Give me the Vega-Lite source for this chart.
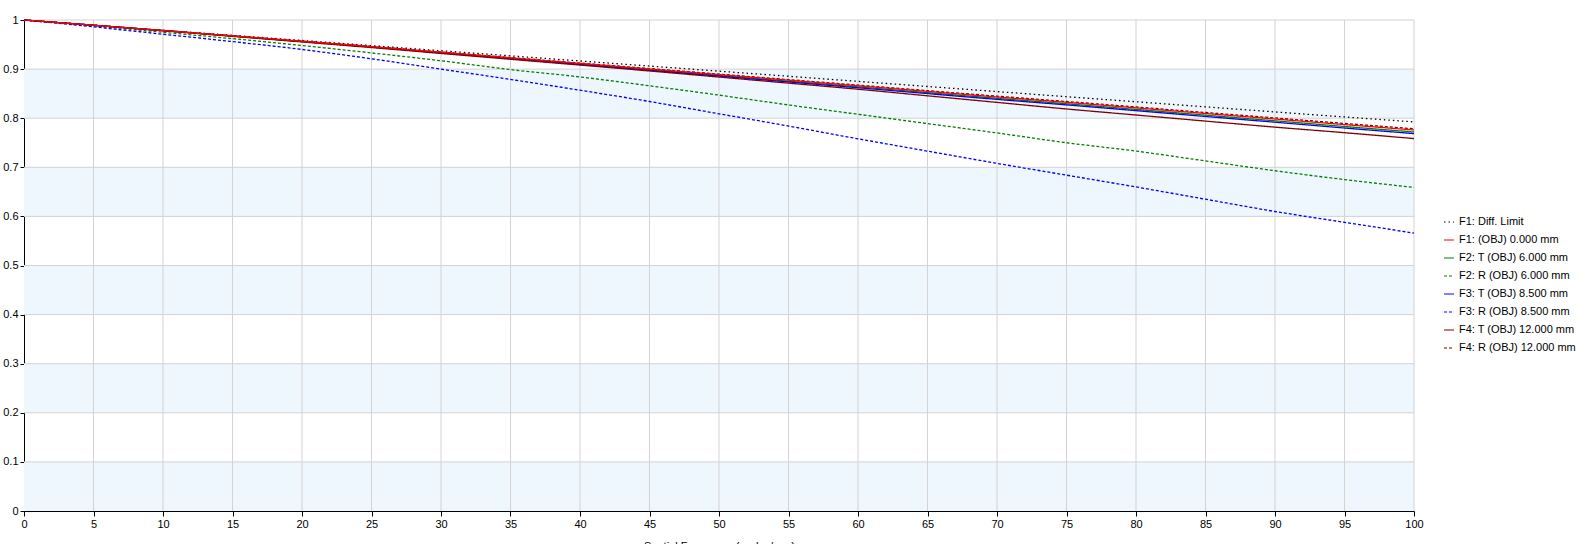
{
  "$schema": "https://vega.github.io/schema/vega-lite/v6.json",
  "width": 1390,
  "height": 491,
  "autosize": {"type": "none"},
  "padding": {"left": 24, "top": 20, "right": 165, "bottom": 33},
  "background": "#ffffff",
  "config": {
    "view": {"stroke": null},
    "font": "Liberation Sans",
    "axis": {"labelFont": "Liberation Sans", "titleFont": "Liberation Sans", "labelColor": "#000000", "titleColor": "#000000", "domainColor": "#000000", "tickColor": "#000000", "grid": false, "labelFontSize": 11, "titleFontSize": 11, "titleFontWeight": "normal"},
    "legend": {"labelFont": "Liberation Sans", "labelFontSize": 11, "labelColor": "#000000", "padding": 0}
  },
  "datasets": {
    "bands": [{"lo": 0, "hi": 0.1}, {"lo": 0.2, "hi": 0.3}, {"lo": 0.4, "hi": 0.5}, {"lo": 0.6, "hi": 0.7}, {"lo": 0.8, "hi": 0.9}],
    "xg": [{"f": 5}, {"f": 10}, {"f": 15}, {"f": 20}, {"f": 25}, {"f": 30}, {"f": 35}, {"f": 40}, {"f": 45}, {"f": 50}, {"f": 55}, {"f": 60}, {"f": 65}, {"f": 70}, {"f": 75}, {"f": 80}, {"f": 85}, {"f": 90}, {"f": 95}, {"f": 100}],
    "yg": [{"v": 0.1}, {"v": 0.2}, {"v": 0.3}, {"v": 0.4}, {"v": 0.5}, {"v": 0.6}, {"v": 0.7}, {"v": 0.8}, {"v": 0.9}, {"v": 1}],
    "mtf": [
      {"s": "F1: Diff. Limit", "f": 0, "v": 1}, {"s": "F1: Diff. Limit", "f": 5, "v": 0.9896}, {"s": "F1: Diff. Limit", "f": 10, "v": 0.9791}, {"s": "F1: Diff. Limit", "f": 15, "v": 0.9687}, {"s": "F1: Diff. Limit", "f": 20, "v": 0.9583}, {"s": "F1: Diff. Limit", "f": 25, "v": 0.9478}, {"s": "F1: Diff. Limit", "f": 30, "v": 0.9374}, {"s": "F1: Diff. Limit", "f": 35, "v": 0.927}, {"s": "F1: Diff. Limit", "f": 40, "v": 0.9166}, {"s": "F1: Diff. Limit", "f": 45, "v": 0.9062}, {"s": "F1: Diff. Limit", "f": 50, "v": 0.8958}, {"s": "F1: Diff. Limit", "f": 55, "v": 0.8854}, {"s": "F1: Diff. Limit", "f": 60, "v": 0.875}, {"s": "F1: Diff. Limit", "f": 65, "v": 0.8646}, {"s": "F1: Diff. Limit", "f": 70, "v": 0.8542}, {"s": "F1: Diff. Limit", "f": 75, "v": 0.8438}, {"s": "F1: Diff. Limit", "f": 80, "v": 0.8335}, {"s": "F1: Diff. Limit", "f": 85, "v": 0.8231}, {"s": "F1: Diff. Limit", "f": 90, "v": 0.8128}, {"s": "F1: Diff. Limit", "f": 95, "v": 0.8025}, {"s": "F1: Diff. Limit", "f": 100, "v": 0.7925},

      {"s": "F2: T (OBJ) 6.000 mm", "f": 0, "v": 1}, {"s": "F2: T (OBJ) 6.000 mm", "f": 5, "v": 0.9893}, {"s": "F2: T (OBJ) 6.000 mm", "f": 10, "v": 0.9785}, {"s": "F2: T (OBJ) 6.000 mm", "f": 15, "v": 0.9675}, {"s": "F2: T (OBJ) 6.000 mm", "f": 20, "v": 0.9564}, {"s": "F2: T (OBJ) 6.000 mm", "f": 25, "v": 0.9453}, {"s": "F2: T (OBJ) 6.000 mm", "f": 30, "v": 0.9337}, {"s": "F2: T (OBJ) 6.000 mm", "f": 35, "v": 0.922}, {"s": "F2: T (OBJ) 6.000 mm", "f": 40, "v": 0.9104}, {"s": "F2: T (OBJ) 6.000 mm", "f": 45, "v": 0.8987}, {"s": "F2: T (OBJ) 6.000 mm", "f": 50, "v": 0.8871}, {"s": "F2: T (OBJ) 6.000 mm", "f": 55, "v": 0.8754}, {"s": "F2: T (OBJ) 6.000 mm", "f": 60, "v": 0.8638}, {"s": "F2: T (OBJ) 6.000 mm", "f": 65, "v": 0.8521}, {"s": "F2: T (OBJ) 6.000 mm", "f": 70, "v": 0.8405}, {"s": "F2: T (OBJ) 6.000 mm", "f": 75, "v": 0.8294}, {"s": "F2: T (OBJ) 6.000 mm", "f": 80, "v": 0.8179}, {"s": "F2: T (OBJ) 6.000 mm", "f": 85, "v": 0.8062}, {"s": "F2: T (OBJ) 6.000 mm", "f": 90, "v": 0.7947}, {"s": "F2: T (OBJ) 6.000 mm", "f": 95, "v": 0.7831}, {"s": "F2: T (OBJ) 6.000 mm", "f": 100, "v": 0.7719},

      {"s": "F2: R (OBJ) 6.000 mm", "f": 0, "v": 1}, {"s": "F2: R (OBJ) 6.000 mm", "f": 5, "v": 0.988}, {"s": "F2: R (OBJ) 6.000 mm", "f": 10, "v": 0.975}, {"s": "F2: R (OBJ) 6.000 mm", "f": 15, "v": 0.962}, {"s": "F2: R (OBJ) 6.000 mm", "f": 20, "v": 0.948}, {"s": "F2: R (OBJ) 6.000 mm", "f": 25, "v": 0.933}, {"s": "F2: R (OBJ) 6.000 mm", "f": 30, "v": 0.917}, {"s": "F2: R (OBJ) 6.000 mm", "f": 35, "v": 0.899}, {"s": "F2: R (OBJ) 6.000 mm", "f": 40, "v": 0.884}, {"s": "F2: R (OBJ) 6.000 mm", "f": 45, "v": 0.866}, {"s": "F2: R (OBJ) 6.000 mm", "f": 50, "v": 0.847}, {"s": "F2: R (OBJ) 6.000 mm", "f": 55, "v": 0.827}, {"s": "F2: R (OBJ) 6.000 mm", "f": 60, "v": 0.808}, {"s": "F2: R (OBJ) 6.000 mm", "f": 65, "v": 0.789}, {"s": "F2: R (OBJ) 6.000 mm", "f": 70, "v": 0.77}, {"s": "F2: R (OBJ) 6.000 mm", "f": 75, "v": 0.75}, {"s": "F2: R (OBJ) 6.000 mm", "f": 80, "v": 0.733}, {"s": "F2: R (OBJ) 6.000 mm", "f": 85, "v": 0.713}, {"s": "F2: R (OBJ) 6.000 mm", "f": 90, "v": 0.693}, {"s": "F2: R (OBJ) 6.000 mm", "f": 95, "v": 0.675}, {"s": "F2: R (OBJ) 6.000 mm", "f": 100, "v": 0.659},

      {"s": "F3: T (OBJ) 8.500 mm", "f": 0, "v": 1}, {"s": "F3: T (OBJ) 8.500 mm", "f": 5, "v": 0.9893}, {"s": "F3: T (OBJ) 8.500 mm", "f": 10, "v": 0.9784}, {"s": "F3: T (OBJ) 8.500 mm", "f": 15, "v": 0.9673}, {"s": "F3: T (OBJ) 8.500 mm", "f": 20, "v": 0.9561}, {"s": "F3: T (OBJ) 8.500 mm", "f": 25, "v": 0.9449}, {"s": "F3: T (OBJ) 8.500 mm", "f": 30, "v": 0.9331}, {"s": "F3: T (OBJ) 8.500 mm", "f": 35, "v": 0.9212}, {"s": "F3: T (OBJ) 8.500 mm", "f": 40, "v": 0.9094}, {"s": "F3: T (OBJ) 8.500 mm", "f": 45, "v": 0.8975}, {"s": "F3: T (OBJ) 8.500 mm", "f": 50, "v": 0.8857}, {"s": "F3: T (OBJ) 8.500 mm", "f": 55, "v": 0.8738}, {"s": "F3: T (OBJ) 8.500 mm", "f": 60, "v": 0.862}, {"s": "F3: T (OBJ) 8.500 mm", "f": 65, "v": 0.8501}, {"s": "F3: T (OBJ) 8.500 mm", "f": 70, "v": 0.8383}, {"s": "F3: T (OBJ) 8.500 mm", "f": 75, "v": 0.8271}, {"s": "F3: T (OBJ) 8.500 mm", "f": 80, "v": 0.8154}, {"s": "F3: T (OBJ) 8.500 mm", "f": 85, "v": 0.8035}, {"s": "F3: T (OBJ) 8.500 mm", "f": 90, "v": 0.7918}, {"s": "F3: T (OBJ) 8.500 mm", "f": 95, "v": 0.78}, {"s": "F3: T (OBJ) 8.500 mm", "f": 100, "v": 0.7686},

      {"s": "F3: R (OBJ) 8.500 mm", "f": 0, "v": 1}, {"s": "F3: R (OBJ) 8.500 mm", "f": 5, "v": 0.986}, {"s": "F3: R (OBJ) 8.500 mm", "f": 10, "v": 0.971}, {"s": "F3: R (OBJ) 8.500 mm", "f": 15, "v": 0.956}, {"s": "F3: R (OBJ) 8.500 mm", "f": 20, "v": 0.94}, {"s": "F3: R (OBJ) 8.500 mm", "f": 25, "v": 0.921}, {"s": "F3: R (OBJ) 8.500 mm", "f": 30, "v": 0.9}, {"s": "F3: R (OBJ) 8.500 mm", "f": 35, "v": 0.879}, {"s": "F3: R (OBJ) 8.500 mm", "f": 40, "v": 0.857}, {"s": "F3: R (OBJ) 8.500 mm", "f": 45, "v": 0.834}, {"s": "F3: R (OBJ) 8.500 mm", "f": 50, "v": 0.809}, {"s": "F3: R (OBJ) 8.500 mm", "f": 55, "v": 0.784}, {"s": "F3: R (OBJ) 8.500 mm", "f": 60, "v": 0.758}, {"s": "F3: R (OBJ) 8.500 mm", "f": 65, "v": 0.733}, {"s": "F3: R (OBJ) 8.500 mm", "f": 70, "v": 0.708}, {"s": "F3: R (OBJ) 8.500 mm", "f": 75, "v": 0.684}, {"s": "F3: R (OBJ) 8.500 mm", "f": 80, "v": 0.66}, {"s": "F3: R (OBJ) 8.500 mm", "f": 85, "v": 0.635}, {"s": "F3: R (OBJ) 8.500 mm", "f": 90, "v": 0.61}, {"s": "F3: R (OBJ) 8.500 mm", "f": 95, "v": 0.588}, {"s": "F3: R (OBJ) 8.500 mm", "f": 100, "v": 0.566},

      {"s": "F4: T (OBJ) 12.000 mm", "f": 0, "v": 1}, {"s": "F4: T (OBJ) 12.000 mm", "f": 5, "v": 0.9893}, {"s": "F4: T (OBJ) 12.000 mm", "f": 10, "v": 0.9781}, {"s": "F4: T (OBJ) 12.000 mm", "f": 15, "v": 0.9667}, {"s": "F4: T (OBJ) 12.000 mm", "f": 20, "v": 0.9553}, {"s": "F4: T (OBJ) 12.000 mm", "f": 25, "v": 0.9438}, {"s": "F4: T (OBJ) 12.000 mm", "f": 30, "v": 0.9319}, {"s": "F4: T (OBJ) 12.000 mm", "f": 35, "v": 0.92}, {"s": "F4: T (OBJ) 12.000 mm", "f": 40, "v": 0.9081}, {"s": "F4: T (OBJ) 12.000 mm", "f": 45, "v": 0.8962}, {"s": "F4: T (OBJ) 12.000 mm", "f": 50, "v": 0.8838}, {"s": "F4: T (OBJ) 12.000 mm", "f": 55, "v": 0.8714}, {"s": "F4: T (OBJ) 12.000 mm", "f": 60, "v": 0.859}, {"s": "F4: T (OBJ) 12.000 mm", "f": 65, "v": 0.8456}, {"s": "F4: T (OBJ) 12.000 mm", "f": 70, "v": 0.8322}, {"s": "F4: T (OBJ) 12.000 mm", "f": 75, "v": 0.8188}, {"s": "F4: T (OBJ) 12.000 mm", "f": 80, "v": 0.8065}, {"s": "F4: T (OBJ) 12.000 mm", "f": 85, "v": 0.7941}, {"s": "F4: T (OBJ) 12.000 mm", "f": 90, "v": 0.7818}, {"s": "F4: T (OBJ) 12.000 mm", "f": 95, "v": 0.7705}, {"s": "F4: T (OBJ) 12.000 mm", "f": 100, "v": 0.7585},

      {"s": "F4: R (OBJ) 12.000 mm", "f": 0, "v": 1}, {"s": "F4: R (OBJ) 12.000 mm", "f": 5, "v": 0.9894}, {"s": "F4: R (OBJ) 12.000 mm", "f": 10, "v": 0.9787}, {"s": "F4: R (OBJ) 12.000 mm", "f": 15, "v": 0.9678}, {"s": "F4: R (OBJ) 12.000 mm", "f": 20, "v": 0.957}, {"s": "F4: R (OBJ) 12.000 mm", "f": 25, "v": 0.9461}, {"s": "F4: R (OBJ) 12.000 mm", "f": 30, "v": 0.9348}, {"s": "F4: R (OBJ) 12.000 mm", "f": 35, "v": 0.9236}, {"s": "F4: R (OBJ) 12.000 mm", "f": 40, "v": 0.9123}, {"s": "F4: R (OBJ) 12.000 mm", "f": 45, "v": 0.9011}, {"s": "F4: R (OBJ) 12.000 mm", "f": 50, "v": 0.8898}, {"s": "F4: R (OBJ) 12.000 mm", "f": 55, "v": 0.8786}, {"s": "F4: R (OBJ) 12.000 mm", "f": 60, "v": 0.8674}, {"s": "F4: R (OBJ) 12.000 mm", "f": 65, "v": 0.8561}, {"s": "F4: R (OBJ) 12.000 mm", "f": 70, "v": 0.8449}, {"s": "F4: R (OBJ) 12.000 mm", "f": 75, "v": 0.834}, {"s": "F4: R (OBJ) 12.000 mm", "f": 80, "v": 0.8229}, {"s": "F4: R (OBJ) 12.000 mm", "f": 85, "v": 0.8116}, {"s": "F4: R (OBJ) 12.000 mm", "f": 90, "v": 0.8005}, {"s": "F4: R (OBJ) 12.000 mm", "f": 95, "v": 0.7893}, {"s": "F4: R (OBJ) 12.000 mm", "f": 100, "v": 0.7785},

      {"s": "F1: (OBJ) 0.000 mm", "f": 0, "v": 1}, {"s": "F1: (OBJ) 0.000 mm", "f": 5, "v": 0.9894}, {"s": "F1: (OBJ) 0.000 mm", "f": 10, "v": 0.9786}, {"s": "F1: (OBJ) 0.000 mm", "f": 15, "v": 0.9677}, {"s": "F1: (OBJ) 0.000 mm", "f": 20, "v": 0.9568}, {"s": "F1: (OBJ) 0.000 mm", "f": 25, "v": 0.9458}, {"s": "F1: (OBJ) 0.000 mm", "f": 30, "v": 0.9344}, {"s": "F1: (OBJ) 0.000 mm", "f": 35, "v": 0.923}, {"s": "F1: (OBJ) 0.000 mm", "f": 40, "v": 0.9116}, {"s": "F1: (OBJ) 0.000 mm", "f": 45, "v": 0.9002}, {"s": "F1: (OBJ) 0.000 mm", "f": 50, "v": 0.8888}, {"s": "F1: (OBJ) 0.000 mm", "f": 55, "v": 0.8774}, {"s": "F1: (OBJ) 0.000 mm", "f": 60, "v": 0.866}, {"s": "F1: (OBJ) 0.000 mm", "f": 65, "v": 0.8546}, {"s": "F1: (OBJ) 0.000 mm", "f": 70, "v": 0.8432}, {"s": "F1: (OBJ) 0.000 mm", "f": 75, "v": 0.8323}, {"s": "F1: (OBJ) 0.000 mm", "f": 80, "v": 0.821}, {"s": "F1: (OBJ) 0.000 mm", "f": 85, "v": 0.8096}, {"s": "F1: (OBJ) 0.000 mm", "f": 90, "v": 0.7983}, {"s": "F1: (OBJ) 0.000 mm", "f": 95, "v": 0.787}, {"s": "F1: (OBJ) 0.000 mm", "f": 100, "v": 0.776}
    ]
  },
  "layer": [
    {
      "data": {"name": "bands"},
      "mark": {"type": "rect", "fill": "#eef6fe"},
      "encoding": {
        "y": {"field": "lo", "type": "quantitative", "scale": {"domain": [0, 1], "nice": false, "zero": true}},
        "y2": {"field": "hi"}
      }
    },
    {
      "data": {"name": "xg"},
      "mark": {"type": "rule", "stroke": "#d3d3d3", "strokeWidth": 1},
      "encoding": {"x": {"field": "f", "type": "quantitative"}}
    },
    {
      "data": {"name": "yg"},
      "mark": {"type": "rule", "stroke": "#d3d3d3", "strokeWidth": 1},
      "encoding": {"y": {"field": "v", "type": "quantitative"}}
    },
    {
      "data": {"name": "mtf"},
      "mark": {"type": "line", "strokeWidth": 1.3, "interpolate": "monotone"},
      "encoding": {
        "x": {
          "field": "f", "type": "quantitative",
          "scale": {"domain": [0, 100], "nice": false},
          "axis": {"values": [0, 5, 10, 15, 20, 25, 30, 35, 40, 45, 50, 55, 60, 65, 70, 75, 80, 85, 90, 95, 100], "tickSize": 5, "labelPadding": 2, "title": "Spatial Frequency (cycles/mm)", "titlePadding": 11, "labelFlush": false}
        },
        "y": {
          "field": "v", "type": "quantitative",
          "scale": {"domain": [0, 1], "nice": false},
          "axis": {"values": [0, 0.1, 0.2, 0.3, 0.4, 0.5, 0.6, 0.7, 0.8, 0.9, 1], "format": "~g", "tickSize": 4, "labelPadding": 2, "title": null, "labelFlush": false}
        },
        "color": {
          "field": "s", "type": "nominal",
          "scale": {
            "domain": ["F1: Diff. Limit", "F1: (OBJ) 0.000 mm", "F2: T (OBJ) 6.000 mm", "F2: R (OBJ) 6.000 mm", "F3: T (OBJ) 8.500 mm", "F3: R (OBJ) 8.500 mm", "F4: T (OBJ) 12.000 mm", "F4: R (OBJ) 12.000 mm"],
            "range": ["#000000", "#ff0000", "#008000", "#008000", "#0000ff", "#0000ff", "#800000", "#800000"]
          },
          "legend": {"title": null, "orient": "none", "legendX": 1419, "legendY": 196, "symbolType": "stroke", "symbolSize": 100, "symbolStrokeWidth": 1.2, "labelOffset": 4, "rowPadding": 7}
        },
        "strokeDash": {
          "field": "s", "type": "nominal",
          "scale": {
            "domain": ["F1: Diff. Limit", "F1: (OBJ) 0.000 mm", "F2: T (OBJ) 6.000 mm", "F2: R (OBJ) 6.000 mm", "F3: T (OBJ) 8.500 mm", "F3: R (OBJ) 8.500 mm", "F4: T (OBJ) 12.000 mm", "F4: R (OBJ) 12.000 mm"],
            "range": [[1.5, 3], [1, 0], [1, 0], [3, 2], [1, 0], [3, 2], [1, 0], [3, 2]]
          },
          "legend": {"title": null, "orient": "none", "legendX": 1419, "legendY": 196, "symbolType": "stroke", "symbolSize": 100, "symbolStrokeWidth": 1.2, "labelOffset": 4, "rowPadding": 7}
        }
      }
    }
  ]
}
